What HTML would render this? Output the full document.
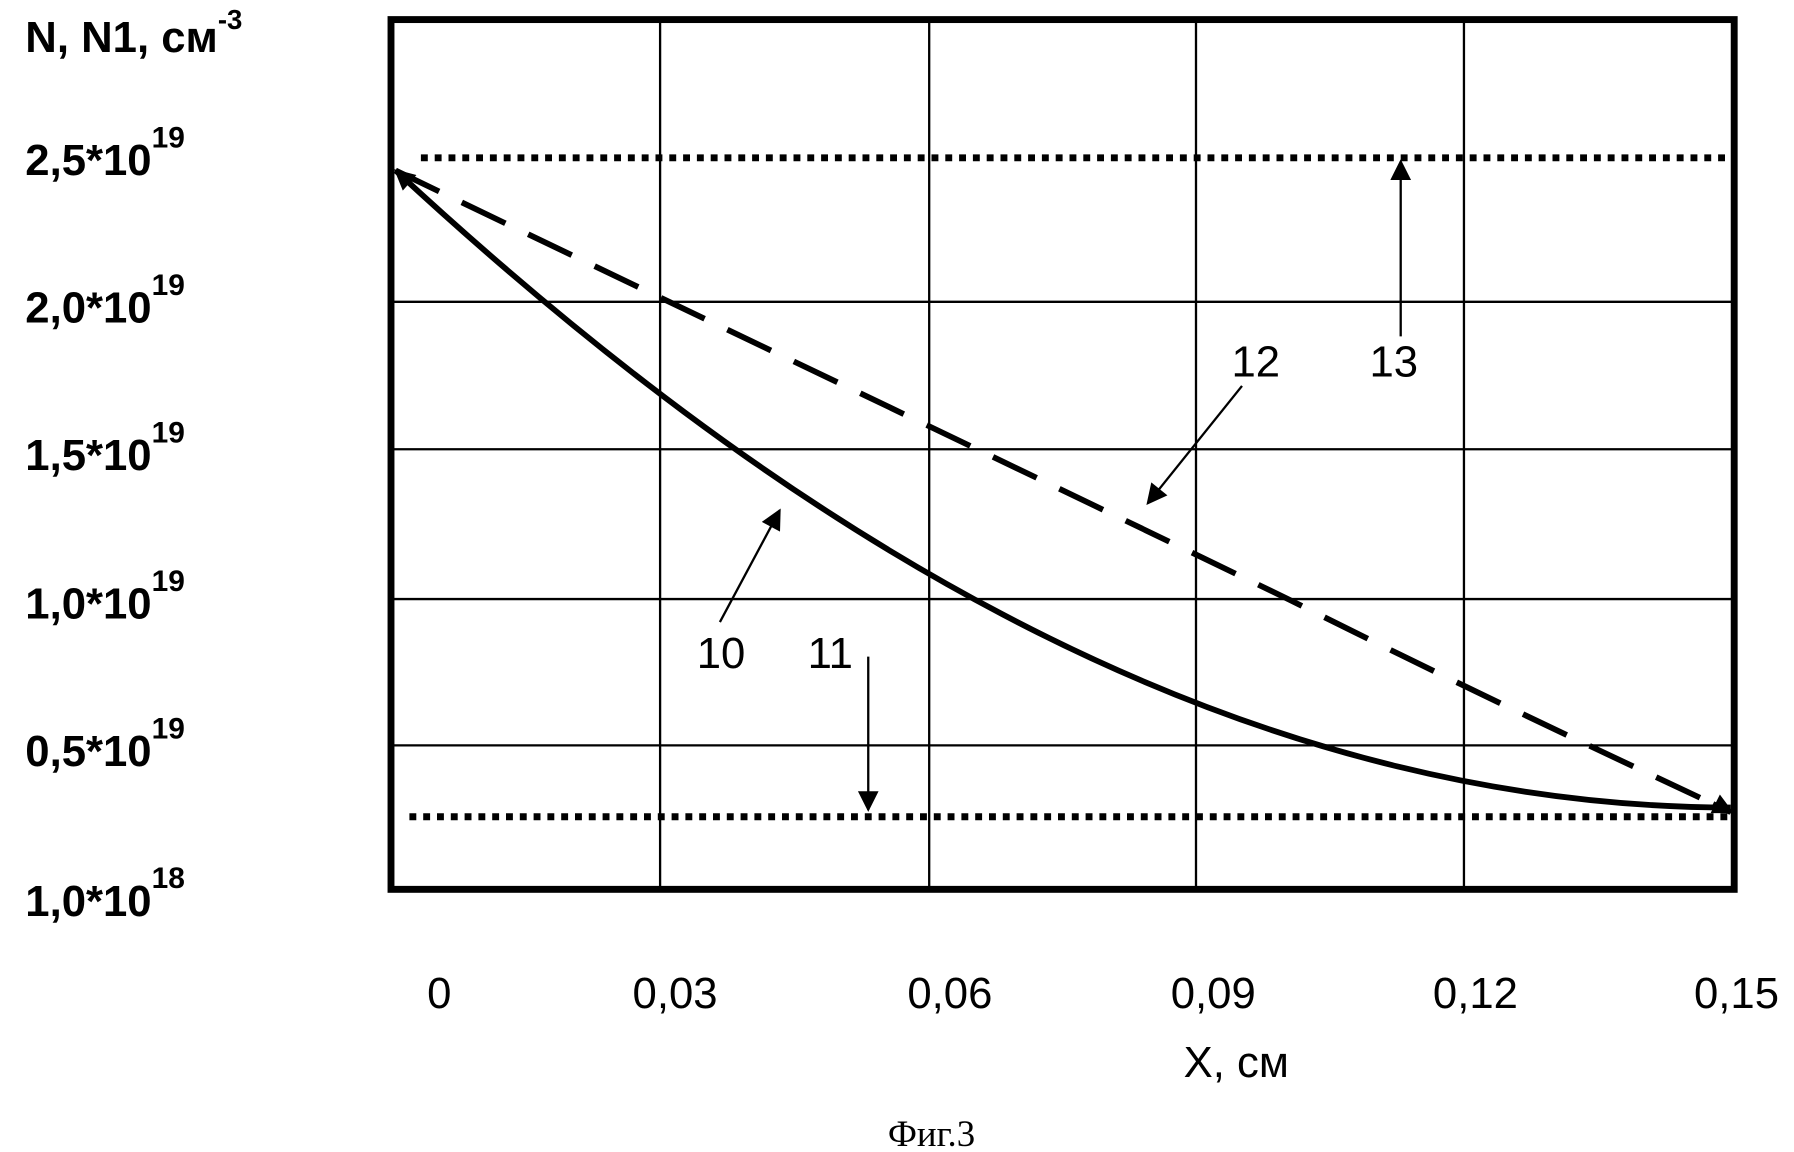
<!DOCTYPE html>
<html><head><meta charset="utf-8"><style>html,body{margin:0;padding:0;background:#fff}svg{display:block}</style></head>
<body>
<svg width="1794" height="1152" viewBox="0 0 1560 1000" preserveAspectRatio="none" xmlns="http://www.w3.org/2000/svg">
<defs>
<marker id="ab" viewBox="0 0 10 10" refX="9" refY="5" markerWidth="22" markerHeight="18" markerUnits="userSpaceOnUse" orient="auto"><path d="M0,0 L10,5 L0,10 z" fill="#000"/></marker>
</defs>
<g stroke="#000" stroke-width="2" fill="none">
<line x1="574" y1="17" x2="574" y2="772"/><line x1="808" y1="17" x2="808" y2="772"/>
<line x1="1040" y1="17" x2="1040" y2="772"/><line x1="1273" y1="17" x2="1273" y2="772"/>
<line x1="340" y1="262" x2="1508" y2="262"/><line x1="340" y1="390" x2="1508" y2="390"/>
<line x1="340" y1="520" x2="1508" y2="520"/><line x1="340" y1="647" x2="1508" y2="647"/>
</g>
<rect x="340" y="17" width="1168" height="755" fill="none" stroke="#000" stroke-width="6"/>
<g stroke="#000" stroke-width="6" stroke-dasharray="6 6" fill="none">
<line x1="366" y1="137" x2="1508" y2="137"/><line x1="356" y1="709" x2="1508" y2="709"/>
</g>
<path d="M344,148 C660,440 1050,700 1505,701" fill="none" stroke="#000" stroke-width="5"/>
<path d="M344,148 C560,252 820,375 1120,520 C1300,610 1420,665 1505,705" fill="none" stroke="#000" stroke-width="5" stroke-dasharray="42 22"/>
<path d="M360,162 L344,148" stroke="#000" stroke-width="3" marker-end="url(#ab)"/>
<path d="M1490,697 L1506,705" stroke="#000" stroke-width="3" marker-end="url(#ab)"/>
<g stroke="#000" stroke-width="2">
<line x1="626" y1="540" x2="678" y2="443" marker-end="url(#ab)"/>
<line x1="755" y1="570" x2="755" y2="703" marker-end="url(#ab)"/>
<line x1="1080" y1="335" x2="998" y2="437" marker-end="url(#ab)"/>
<line x1="1218" y1="292" x2="1218" y2="140" marker-end="url(#ab)"/>
</g>
<g font-family="'Liberation Sans Narrow','Liberation Sans',sans-serif" font-size="38" fill="#000">
<text x="627" y="580" text-anchor="middle">10</text>
<text x="722" y="580" text-anchor="middle">11</text>
<text x="1092" y="327" text-anchor="middle">12</text>
<text x="1212" y="327" text-anchor="middle">13</text>
<text x="382" y="875" text-anchor="middle">0</text>
<text x="587" y="875" text-anchor="middle">0,03</text>
<text x="826" y="875" text-anchor="middle">0,06</text>
<text x="1055" y="875" text-anchor="middle">0,09</text>
<text x="1283" y="875" text-anchor="middle">0,12</text>
<text x="1510" y="875" text-anchor="middle">0,15</text>
<text x="1075" y="935" text-anchor="middle">X, см</text>
</g>
<g font-family="'Liberation Sans Narrow','Liberation Sans',sans-serif" font-weight="bold" font-size="38" fill="#000">
<text x="22" y="45">N, N1, см<tspan font-size="24" dy="-20">-3</tspan></text>
<text x="22" y="152">2,5*10<tspan font-size="26" dy="-24">19</tspan></text>
<text x="22" y="280">2,0*10<tspan font-size="26" dy="-24">19</tspan></text>
<text x="22" y="408">1,5*10<tspan font-size="26" dy="-24">19</tspan></text>
<text x="22" y="537">1,0*10<tspan font-size="26" dy="-24">19</tspan></text>
<text x="22" y="665">0,5*10<tspan font-size="26" dy="-24">19</tspan></text>
<text x="22" y="795">1,0*10<tspan font-size="26" dy="-24">18</tspan></text>
</g>
<text x="810" y="995" text-anchor="middle" font-family="'Liberation Serif',serif" font-size="32">Фиг.3</text>
</svg>
</body></html>
